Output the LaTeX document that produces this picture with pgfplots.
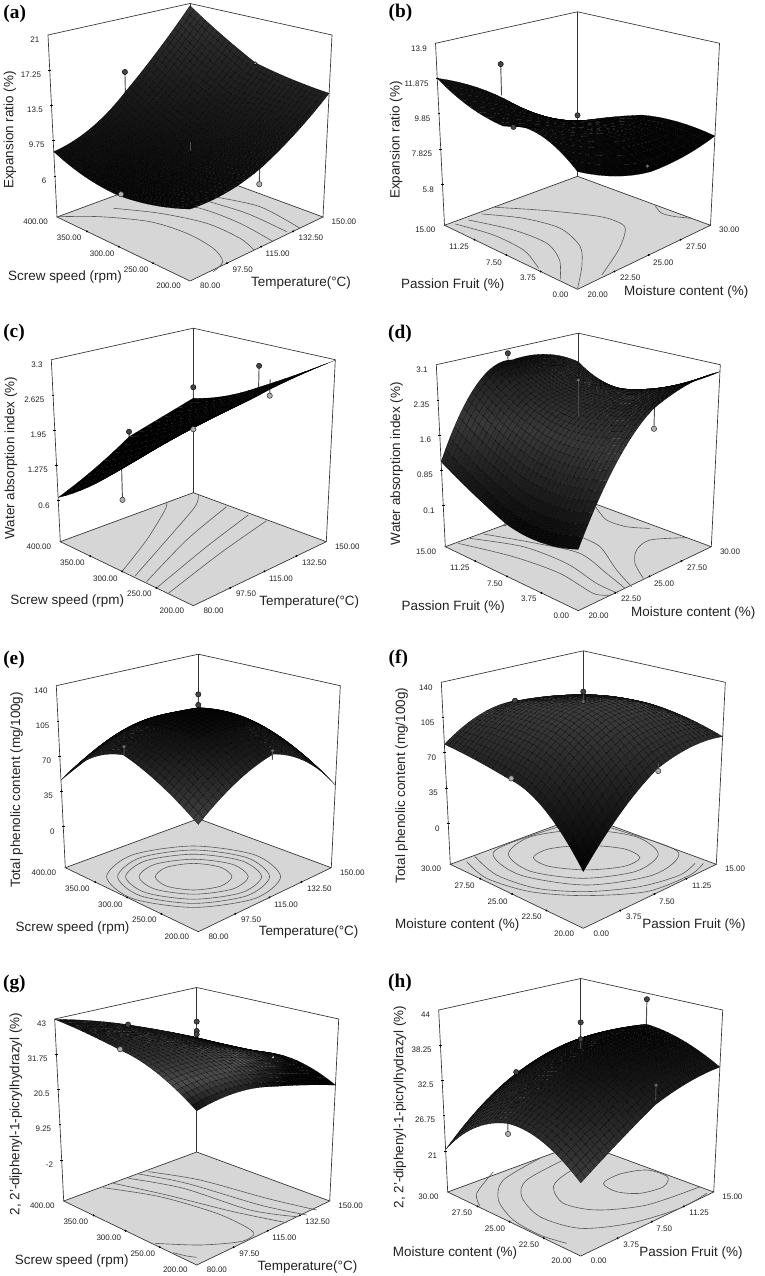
\documentclass[border=0pt]{standalone}
\usepackage{fontspec}
\setmainfont{Liberation Sans}
\newfontfamily\serifbold{Liberation Serif}[Scale=1]
\usepackage{pgfplots}
\pgfplotsset{compat=1.18}
\usepgfplotslibrary{patchplots}
\definecolor{floorgray}{HTML}{D6D6D6}
\definecolor{framecol}{HTML}{333333}
\definecolor{txt}{HTML}{222222}
\definecolor{balldark}{HTML}{444444}
\definecolor{balllight}{HTML}{B0B0B0}

\newcommand{\tickf}{\fontsize{6}{7}\selectfont}
\newcommand{\labf}{\fontsize{10.1}{12}\selectfont}
\newcommand{\letf}{\fontsize{14.5}{16}\selectfont\serifbold\bfseries}

% node numbers of the four curved patches of a 5x5 surface
\begin{filecontents*}[overwrite]{bqconn.dat}
0 2 12 10 1 7 11 5 6
2 4 14 12 3 9 13 7 8
10 12 22 20 11 17 21 15 16
12 14 24 22 13 19 23 17 18
\end{filecontents*}

% one unit of every axis = one pixel of the reference, origin at the front floor corner
\pgfplotsset{
  panel/.style={scale only axis, width=300pt, height=236.25pt,
    xmin=-200, xmax=200, ymin=-25, ymax=290, hide axis, clip=false},
  % perspective of the box: #1,#2 x start/range, #3,#4 y start/range, #5,#6 z floor/range
  table/proj/.style n args={6}{
    x expr={153.3*((\thisrow{x}-(#1))/#2-(\thisrow{y}-(#3))/#4)/(1+0.153*((\thisrow{x}-(#1))/#2+(\thisrow{y}-(#3))/#4)-0.0735*(\thisrow{z}-(#5))/#6)},
    y expr={(73.8*((\thisrow{x}-(#1))/#2+(\thisrow{y}-(#3))/#4)+191.8*(\thisrow{z}-(#5))/#6)/(1+0.153*((\thisrow{x}-(#1))/#2+(\thisrow{y}-(#3))/#4)-0.0735*(\thisrow{z}-(#5))/#6)}},
  table/pa/.style={proj={80}{70}{200}{200}{1.6}{19.4}},
  table/pb/.style={proj={20}{10}{0}{15}{3.43}{10.47}},
  table/pc/.style={proj={80}{70}{200}{200}{-0.19}{3.49}},
  table/pd/.style={proj={20}{10}{0}{15}{-0.77}{3.87}},
  table/pe/.style={proj={80}{70}{200}{200}{-41}{181}},
  table/pf/.style={proj={0}{15}{20}{10}{-41}{181}},
  table/pg/.style={proj={80}{70}{200}{200}{-15}{58}},
  table/ph/.style={proj={0}{15}{20}{10}{14.3}{29.7}},
  rsm/.style={patch, patch type=biquadratic, patch refines=4, shader=faceted,
    faceted color=black, line width=0.1pt, point meta=\thisrow{z},
    patch table={bqconn.dat}},
  floorline/.style={smooth, draw=black!65, line width=0.45pt},
  stick/.style={draw=black!70, line width=0.7pt, empty line=jump, unbounded coords=jump},
  balld/.style={only marks, mark=*, mark size=2pt, mark options={fill=balldark, draw=black, line width=0.3pt}},
  balll/.style={only marks, mark=*, mark size=2pt, mark options={fill=balllight, draw=black!80, line width=0.4pt}},
  ballsmall/.style={only marks, mark=*, mark size=1.2pt, mark options={fill=black!55, draw=black!70, line width=0.2pt}},
}

\newcommand{\rsmbox}{
  \addplot[fill=floorgray, draw=framecol, line width=0.5pt] coordinates {(0,0) (133,64) (0,113) (-133,64) (0,0)};
  \addplot[draw=framecol, line width=0.5pt] coordinates {(-133,64) (-142,246) (0,277.5) (142,246) (133,64)};
  \addplot[draw=framecol, line width=0.5pt] coordinates {(0,113) (0,277.5)};
  \addplot[only marks, mark=*, mark size=0.5pt, black] coordinates {(36.9,17.8) (71.2,34.3) (103.1,49.6) (-36.9,17.8) (-71.2,34.3) (-103.1,49.6)};
  \addplot[only marks, mark=-, mark size=1pt, black] coordinates {(-140.3,210.8) (-138.5,175.6) (-136.8,140.4) (-135,105.2)};
}
\newcommand{\zticks}[5]{
  \node[anchor=east, font=\tickf, text=txt] at (axis cs:-146,241) {#1};
  \node[anchor=east, font=\tickf, text=txt] at (axis cs:-144.3,206) {#2};
  \node[anchor=east, font=\tickf, text=txt] at (axis cs:-142.5,171) {#3};
  \node[anchor=east, font=\tickf, text=txt] at (axis cs:-140.8,136) {#4};
  \node[anchor=east, font=\tickf, text=txt] at (axis cs:-139,100) {#5};
}
\newcommand{\rticks}[5]{
  \node[anchor=west, font=\tickf, text=txt] at (axis cs:5.5,-5) {#1};
  \node[anchor=west, font=\tickf, text=txt] at (axis cs:38,11.5) {#2};
  \node[anchor=west, font=\tickf, text=txt] at (axis cs:71,27) {#3};
  \node[anchor=west, font=\tickf, text=txt] at (axis cs:104,43) {#4};
  \node[anchor=west, font=\tickf, text=txt] at (axis cs:137,59.3) {#5};
}
\newcommand{\lticks}[5]{
  \node[anchor=east, font=\tickf, text=txt] at (axis cs:-4.5,-5) {#1};
  \node[anchor=east, font=\tickf, text=txt] at (axis cs:-37,11.5) {#2};
  \node[anchor=east, font=\tickf, text=txt] at (axis cs:-71,27) {#3};
  \node[anchor=east, font=\tickf, text=txt] at (axis cs:-104,43) {#4};
  \node[anchor=east, font=\tickf, text=txt] at (axis cs:-137.5,59.3) {#5};
}
\newcommand{\tempticks}{\rticks{80.00}{97.50}{115.00}{132.50}{150.00}}
\newcommand{\screwticks}{\lticks{200.00}{250.00}{300.00}{350.00}{400.00}}
\newcommand{\panelid}[3]{\node[font=\letf, text=black] at (axis cs:#1,#2) {(#3)};}
\newcommand{\zlab}[3]{\node[rotate=90, font=\labf, text=txt] at (axis cs:#1,#2) {#3};}
\newcommand{\flab}[3]{\node[font=\labf, text=txt] at (axis cs:#1,#2) {#3};}

\begin{document}
\begin{tikzpicture}[x=0.75pt, y=0.75pt]
\path[use as bounding box] (0,0) rectangle (764,-1276);

% ---------------- (a)
\begin{axis}[panel, at={(190-200,-281-25)}, colormap={ma}{gray(0cm)=(0.03); gray(1cm)=(0.2)}]
\rsmbox
\addplot[floorline] coordinates {(-131.7,64.3) (-90,64.3) (-40,59.3) (-3.3,47.7) (23.3,32.7) (32.7,19.3) (23.3,9.3)};
\addplot[floorline] coordinates {(-76.7,72.7) (-30,67.7) (16.7,57.7) (50,42.7) (64,31)};
\addplot[floorline] coordinates {(-40,81) (10,72.7) (50,57.7) (83.3,39.3)};
\addplot[floorline] coordinates {(13.3,81) (56.7,67.7) (96.7,49.3)};
\addplot[floorline] coordinates {(23.3,84.3) (70,74.3) (110,52.7)};
\addplot[stick] table[pa] {
x y z
115 400 15.3
115 400 13.1

150 290 2.7
150 290 16
};
\addplot[balld] table[pa] {
x y z
115 400 15.3
};
\addplot[balll] table[pa] {
x y z
150 290 2.7
111.5 400 1.5
};
\addplot[rsm] table[pa] {
x y z
150 400 21.0
132.5 400 16.81
115 400 13.10
97.5 400 10.17
80 400 8.86
150 350 18.50
132.5 350 14.58
115 350 11.20
97.5 350 8.62
80 350 7.54
150 300 16.32
132.5 300 12.80
115 300 9.86
97.5 300 7.82
80 300 7.05
150 250 15.53
132.5 250 12.31
115 250 9.69
97.5 250 8.04
80 250 7.54
150 200 15.06
132.5 200 12.23
115 200 10.04
97.5 200 8.86
80 200 8.68
};
\addplot[stick] table[pa] {
x y z
115 300 9.86
115 300 8.9
};
\addplot[ballsmall, mark options={fill=balllight}] table[pa] {
x y z
150 300 16.25
};
\zticks{21}{17.25}{13.5}{9.75}{6}
\tempticks
\screwticks
\panelid{-175.3}{267}{a}
\zlab{-180}{151}{Expansion ratio (\%)}
\flab{-125}{4.3}{Screw speed (rpm)}
\flab{111}{-2.3}{Temperature(°C)}
\end{axis}

% ---------------- (b)
\begin{axis}[panel, at={(577.5-200,-289.3-25)}, colormap={mb}{gray(0cm)=(0.0); gray(1cm)=(0.06)}]
\rsmbox
\addplot[floorline] coordinates {(77.7,83.3) (84.3,76) (97.7,72.7) (114.3,71)};
\addplot[floorline] coordinates {(-82.7,82) (-30.7,78.7) (22.7,72.7) (44.3,65.3) (47.7,57.7) (41,39.3) (24.3,14.3)};
\addplot[floorline] coordinates {(-95.7,75.3) (-54,71) (-17.3,61) (2.7,42.7) (4.3,22.7) (0,1)};
\addplot[floorline] coordinates {(-109,69.3) (-64,59.3) (-30.7,46) (-18,29.3) (-17.3,10)};
\addplot[floorline] coordinates {(-122.3,65.3) (-84,54.3) (-54,39.3) (-42.3,26) (-39,21)};
\addplot[stick] table[pb] {
x y z
24.2 15 11.94
24.2 15 10.1

25 7.5 9.92
25 7.5 9.08
};
\addplot[balld] table[pb] {
x y z
24.2 15 11.94
25 15 8.0
};
\addplot[rsm, patch refines=3] table[pb] {
x y z
30 15 7.09
27.5 15 7.98
25 15 9.44
22.5 15 10.95
20 15 11.99
30 11.25 7.98
27.5 11.25 8.31
25 11.25 9.16
22.5 11.25 10.19
20 11.25 11.0
30 7.5 8.73
27.5 7.5 8.67
25 7.5 9.08
22.5 7.5 9.82
20 7.5 10.57
30 3.75 8.94
27.5 3.75 8.79
25 3.75 9.06
22.5 3.75 9.80
20 3.75 10.78
30 0 8.74
27.5 0 8.25
25 0 8.12
22.5 0 8.61
20 0 9.58
};
\addplot[balld] table[pb] {
x y z
25 7.5 9.92
};
\addplot[ballsmall] table[pb] {
x y z
30 6.75 5.7
};
\zticks{13.9}{11.875}{9.85}{7.825}{5.8}
\rticks{20.00}{22.50}{25.00}{27.50}{30.00}
\lticks{0.00}{3.75}{7.50}{11.25}{15.00}
\panelid{-177}{276.7}{b}
\zlab{-181.3}{149.3}{Expansion ratio (\%)}
\flab{-124.7}{4.3}{Passion Fruit (\%)}
\flab{108.7}{-2.3}{Moisture content (\%)}
\end{axis}

% ---------------- (c)
\begin{axis}[panel, at={(193.3-200,-605.7-25)}, colormap={mc}{gray(0cm)=(0.0); gray(1cm)=(0.0)}]
\rsmbox
\addplot[floorline] coordinates {(-26.7,104) (-28.3,95.7) (-46.7,65.7) (-71.7,33.7)};
\addplot[floorline] coordinates {(5,111.3) (1.7,99) (-26.7,65.7) (-58.3,29.7)};
\addplot[floorline] coordinates {(33.3,99) (-6.7,65.7) (-46.7,24)};
\addplot[floorline] coordinates {(55,90.7) (13.3,59) (-36,18.3)};
\addplot[floorline] coordinates {(73.3,85) (26.7,52.3) (-25,12.3)};
\addplot[stick] table[pc] {
x y z
115 400 1.57
115 400 1.40

110.8 400 0.21
110.8 400 1.3

150 300 2.88
150 300 2.40

150 284 2.35
150 284 2.67

115 300 2.80
115 300 2.17
};
\addplot[balld] table[pc] {
x y z
115 400 1.57
115 300 2.80
150 300 2.88
};
\addplot[balll] table[pc] {
x y z
110.8 400 0.21
150 284 2.35
};
\addplot[rsm, patch refines=3] table[pc] {
x y z
150 400 1.89
132.5 400 1.68
115 400 1.47
97.5 400 1.04
80 400 0.70
150 350 2.11
132.5 350 1.95
115 350 1.75
97.5 350 1.40
80 350 1.14
150 300 2.46
132.5 300 2.32
115 300 2.17
97.5 300 1.89
80 300 1.70
150 250 2.86
132.5 250 2.76
115 250 2.64
97.5 250 2.44
80 250 2.32
150 200 3.29
132.5 200 3.21
115 200 3.10
97.5 200 2.97
80 200 2.91
};
\addplot[balll] table[pc] {
x y z
115 300 2.02
};
\zticks{3.3}{2.625}{1.95}{1.275}{0.6}
\tempticks
\screwticks
\panelid{-179.3}{273}{c}
\zlab{-182.3}{147.7}{Water absorption index (\%)}
\flab{-126}{4.3}{Screw speed (rpm)}
\flab{116}{4}{Temperature(°C)}
\end{axis}

% ---------------- (d)
\begin{axis}[panel, at={(578.3-200,-610.7-25)}, colormap={md}{gray(0cm)=(0.02); gray(0.6cm)=(0.22); gray(0.85cm)=(0.14); gray(1cm)=(0.02)}]
\rsmbox
\addplot[floorline] coordinates {(17.7,103.3) (28.3,90.7) (48.3,84) (71.7,82.3)};
\addplot[floorline] coordinates {(108.3,73) (71.7,70.7) (58.3,60.7) (56.7,47.3) (65,32.3)};
\addplot[floorline] coordinates {(1.7,74) (21.7,64) (38.3,40.7) (53.3,24)};
\addplot[floorline] coordinates {(-95,76.7) (-41.7,67.3) (1.7,57.3) (28.3,37.3) (46.7,22.3)};
\addplot[floorline] coordinates {(-108.3,72.3) (-55,64) (-11.7,47.3) (18.3,27.3) (40,17.3)};
\addplot[floorline] coordinates {(-120,67.3) (-65,54) (-18.3,37.3) (15,17.3) (32.3,15.7)};
\addplot[stick] table[pd] {
x y z
24.7 15 3.03
24.7 15 2.74

30 6.3 1.43
30 6.3 1.92
};
\addplot[balld] table[pd] {
x y z
24.7 15 3.03
};
\addplot[balll] table[pd] {
x y z
30 6.3 1.43
};
\addplot[rsm] table[pd] {
x y z
30 15 2.50
27.5 15 2.83
25 15 2.87
22.5 15 2.51
20 15 1.10
30 11.25 2.15
27.5 11.25 2.43
25 11.25 2.45
22.5 11.25 2.03
20 11.25 0.69
30 7.5 2.22
27.5 7.5 2.37
25 7.5 2.27
22.5 7.5 1.72
20 7.5 0.34
30 3.75 2.51
27.5 3.75 2.54
25 3.75 2.34
22.5 3.75 1.66
20 3.75 0.26
30 0 2.96
27.5 0 2.89
25 0 2.62
22.5 0 1.83
20 0 0.44
};
\addplot[stick] table[pd] {
x y z
25 7.5 2.79
25 7.5 2.06
};
\addplot[ballsmall] table[pd] {
x y z
25 7.5 2.79
24.2 15 -0.77
};
\zticks{3.1}{2.35}{1.6}{0.85}{0.1}
\rticks{20.00}{22.50}{25.00}{27.50}{30.00}
\lticks{0.00}{3.75}{7.50}{11.25}{15.00}
\panelid{-178.3}{277.3}{d}
\zlab{-181.7}{147}{Water absorption index (\%)}
\flab{-125}{3.3}{Passion Fruit (\%)}
\flab{115}{-2}{Moisture content (\%)}
\end{axis}

% ---------------- (e)
\begin{axis}[panel, at={(198.3-200,-931.7-25)}, colormap={me}{gray(0cm)=(0.3); gray(1cm)=(0.02)}]
\rsmbox
\addplot[floorline, smooth cycle] coordinates {(82.3,55) (56.8,76.7) (-4.7,85.7) (-66.2,76.7) (-91.7,55) (-66.2,33.3) (-4.7,24.3) (56.8,33.3)};
\addplot[floorline, smooth cycle] coordinates {(71.3,55) (49,73.9) (-4.7,81.7) (-58.4,73.9) (-80.7,55) (-58.4,36.1) (-4.7,28.3) (49,36.1)};
\addplot[floorline, smooth cycle] coordinates {(63.3,55) (43.4,70.9) (-4.7,77.5) (-52.8,70.9) (-72.7,55) (-52.8,39.1) (-4.7,32.5) (43.4,39.1)};
\addplot[floorline, smooth cycle] coordinates {(50,55) (34,67.4) (-4.7,72.5) (-43.4,67.4) (-59.4,55) (-43.4,42.6) (-4.7,37.5) (34,42.6)};
\addplot[floorline, smooth cycle] coordinates {(33.6,55) (22.4,64.4) (-4.7,68.3) (-31.8,64.4) (-43,55) (-31.8,45.6) (-4.7,41.7) (22.4,45.6)};
\addplot[rsm] table[pe] {
x y z
150 400 49.5
132.5 400 71.2
115 400 83.9
97.5 400 67.6
80 400 49.1
150 350 71.2
132.5 350 94.8
115 350 103.8
97.5 350 100.2
80 350 81.0
150 300 83.0
132.5 300 105.6
115 300 119.4
97.5 300 111.0
80 300 94.6
150 250 67.6
132.5 250 96.6
115 250 111.0
97.5 250 103.8
80 250 79.4
150 200 44.1
132.5 200 77.9
115 200 95.3
97.5 200 81.5
80 200 56.2
};
\addplot[stick] table[pe] {
x y z
115 300 131.9
115 300 121.9

110.1 400 64.7
110.1 400 56.2

150 286 60.5
150 286 51
};
\addplot[balld] table[pe] {
x y z
115 300 131.9
115 300 121.9
};
\addplot[ballsmall] table[pe] {
x y z
110.1 400 64.7
150 286 60.5
};
\zticks{140}{105}{70}{35}{0}
\tempticks
\screwticks
\panelid{-184.3}{272.3}{e}
\zlab{-181.7}{142}{Total phenolic content (mg/100g)}
\flab{-125.7}{4}{Screw speed (rpm)}
\flab{110.3}{0}{Temperature(°C)}
\end{axis}

% ---------------- (f)
\begin{axis}[panel, at={(583.3-200,-928.3-25)}, colormap={mf}{gray(0cm)=(0.0); gray(1cm)=(0.24)}]
\rsmbox
\addplot[floorline, smooth cycle] coordinates {(56.6,70.7) (41,79.4) (3.3,83) (-34.4,79.4) (-50,70.7) (-34.4,62) (3.3,58.4) (41,62)};
\addplot[floorline, smooth cycle] coordinates {(75,74.3) (53,91.5) (0,98.6) (-53,91.5) (-75,74.3) (-53,57.1) (0,50) (53,57.1)};
\addplot[floorline, smooth cycle] coordinates {(95,76) (70.5,53.6) (3.3,43.3) (-63.9,53.6) (-90,76) (-42,96) (0,106) (42,96)};
\addplot[floorline] coordinates {(-108.3,71.7) (-86.7,53.3) (-46.7,40) (3.3,36.7) (56.7,41.7) (96.7,53.3) (111.7,65)};
\addplot[floorline] coordinates {(-116.7,66.7) (-96.7,50) (-53.3,36.7) (0,32.7) (63.3,36.7) (106.7,53.3) (120,65)};
\addplot[balld] table[pf] {
x y z
7.2 30 106.5
};
\addplot[rsm] table[pf] {
x y z
15 30 95.1
11.25 30 102.4
7.5 30 106.0
3.75 30 101.8
0 30 81.0
15 27.5 101.6
11.25 27.5 111.0
7.5 27.5 114.7
3.75 27.5 107.4
0 27.5 76.3
15 25 102.5
11.25 25 116.5
7.5 25 120.1
3.75 25 105.6
0 25 69.4
15 22.5 98.6
11.25 22.5 111.0
7.5 22.5 109.2
3.75 22.5 89.3
0 22.5 53.1
15 20 88.4
11.25 20 88.8
7.5 20 79.4
3.75 20 51.7
0 20 11.3
};
\addplot[stick] table[pf] {
x y z
7.5 25 131.3
7.5 25 121.9

15 24.2 36.1
15 24.2 44.2
};
\addplot[balld] table[pf] {
x y z
7.5 25 131.3
};
\addplot[ballsmall] table[pf] {
x y z
7.5 25 121.9
};
\addplot[balll] table[pf] {
x y z
6.6 30 27.4
15 24.2 36.1
};
\zticks{140}{105}{70}{35}{0}
\rticks{0.00}{3.75}{7.50}{11.25}{15.00}
\lticks{20.00}{22.50}{25.00}{27.50}{30.00}
\panelid{-185}{270}{f}
\zlab{-181.7}{142.7}{Total phenolic content (mg/100g)}
\flab{-126}{3.3}{Moisture content (\%)}
\flab{110.7}{3.3}{Passion Fruit (\%)}
\end{axis}

% ---------------- (g)
\begin{axis}[panel, at={(196.7-200,-1265-25)}, colormap={mg}{gray(0cm)=(0.0); gray(0.28cm)=(0.02); gray(0.55cm)=(0.3); gray(1cm)=(0.06)}]
\rsmbox
\addplot[floorline] coordinates {(-48.3,93.3) (3.3,85) (70,66.7) (120,55)};
\addplot[floorline] coordinates {(-58.3,91) (-10,81.7) (63.3,60) (110,50)};
\addplot[floorline] coordinates {(-68.3,86.7) (-13.3,76.7) (53.3,55) (100,48.3)};
\addplot[floorline] coordinates {(-83.3,81.7) (-30,70) (36.7,53.3) (90,42.3)};
\addplot[floorline] coordinates {(-93.3,77.3) (-36.7,68.3) (20,51.7) (51.7,36.7) (56.7,30) (43.3,23.3) (3.3,20) (-41.7,21.7)};
\addplot[floorline] coordinates {(-23.3,12.3) (-10,9) (0,7.7)};
\addplot[balld] table[pg] {
x y z
113.6 400 36.4
};
\addplot[rsm] table[pg] {
x y z
150 400 26.6
132.5 400 31.5
115 400 36.0
97.5 400 39.9
80 400 42.9
150 350 26.8
132.5 350 31.5
115 350 35.8
97.5 350 39.3
80 350 41.4
150 300 27.3
132.5 300 31.6
115 300 35.5
97.5 300 38.4
80 300 39.3
150 250 27.3
132.5 250 31.0
115 250 34.2
97.5 250 36.3
80 250 35.9
150 200 22.8
132.5 200 26.1
115 200 28.9
97.5 200 30.5
80 200 29.0
};
\addplot[stick] table[pg] {
x y z
115 300 42.2
115 300 38.4
};
\addplot[balld] table[pg] {
x y z
115 300 42.2
115 300 39.4
115 300 38.4
};
\addplot[balll] table[pg] {
x y z
109.4 400 29.1
};
\addplot[ballsmall, mark options={fill=white}] table[pg] {
x y z
150 284 26.5
};
\zticks{43}{31.75}{20.5}{9.25}{-2}
\tempticks
\screwticks
\panelid{-182.3}{280.7}{g}
\zlab{-180.7}{151}{2, 2'-diphenyl-1-picrylhydrazyl (\%)}
\flab{-125}{4.3}{Screw speed (rpm)}
\flab{110.7}{-1.7}{Temperature(°C)}
\end{axis}

% ---------------- (h)
\begin{axis}[panel, at={(580.7-200,-1256-25)}, colormap={mh}{gray(0cm)=(0.3); gray(1cm)=(0.02)}]
\rsmbox
\addplot[floorline] coordinates {(19.3,101) (-14,82.7) (-27.3,69.3) (-17.3,52.7) (16,46) (66,51) (119.3,69.3)};
\addplot[floorline, smooth cycle] coordinates {(22.7,72.7) (39.3,82) (66,86) (86.7,79.3) (82.7,69.3) (59.3,62.7) (36,64.3)};
\addplot[floorline] coordinates {(-14,97.7) (-54,76) (-59,59.3) (-40.7,39.3) (-0.7,27.7) (49.3,32.7) (99.3,47.7) (126,62.7)};
\addplot[floorline] coordinates {(-40.7,97.7) (-77.3,76) (-82.3,56) (-67.3,36) (-40.7,21) (-14,12.7)};
\addplot[floorline] coordinates {(-87.3,84.3) (-104,62.7) (-100.7,50)};
\addplot[stick] table[ph] {
x y z
7.5 30 31.0
7.5 30 30.8

6.45 30 20.7
6.45 30 22.6

15 25 43.2
15 25 39.1
};
\addplot[balld] table[ph] {
x y z
7.5 30 31.0
15 25 43.2
};
\addplot[balll] table[ph] {
x y z
6.45 30 20.7
};
\addplot[rsm] table[ph] {
x y z
15 30 33.8
11.25 30 32.95
7.5 30 30.8
3.75 30 27.1
0 30 21.6
15 27.5 36.8
11.25 27.5 36.5
7.5 27.5 34.9
3.75 27.5 31.8
0 27.5 27.2
15 25 39.1
11.25 25 38.7
7.5 25 37.3
3.75 25 34.1
0 25 29.9
15 22.5 37.9
11.25 22.5 37.5
7.5 22.5 36.2
3.75 22.5 33.0
0 22.5 29.15
15 20 35.1
11.25 20 34.4
7.5 20 32.7
3.75 20 29.15
0 20 25.3
};
\addplot[stick] table[ph] {
x y z
7.5 25 42.1
7.5 25 38

15 24.2 29.3
15 24.2 26.7
};
\addplot[balld] table[ph] {
x y z
7.5 25 42.1
7.5 25 39.5
};
\addplot[ballsmall] table[ph] {
x y z
15 24.2 29.3
};
\zticks{44}{38.25}{32.5}{26.75}{21}
\rticks{0.00}{3.75}{7.50}{11.25}{15.00}
\lticks{20.00}{22.50}{25.00}{27.50}{30.00}
\panelid{-180.7}{272.7}{h}
\zlab{-180.7}{149}{2, 2'-diphenyl-1-picrylhydrazyl (\%)}
\flab{-125.7}{3.3}{Moisture content (\%)}
\flab{110.3}{3.3}{Passion Fruit (\%)}
\end{axis}
\end{tikzpicture}
\end{document}
